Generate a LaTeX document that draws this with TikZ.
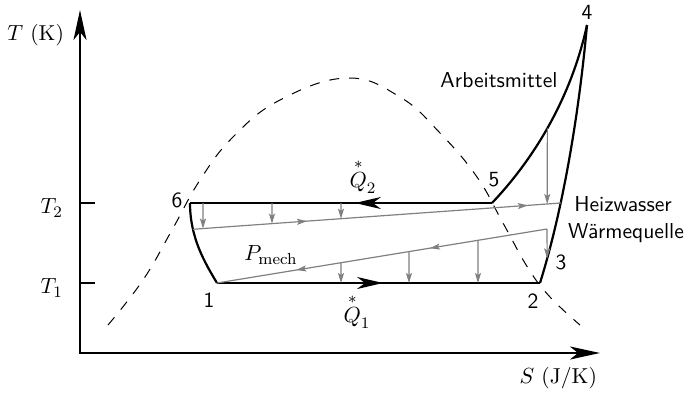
\documentclass[tikz,border=0pt]{standalone}
\usepackage{amsmath, amssymb}
\usepackage{tikz}
\usetikzlibrary{calc, arrows.meta, decorations.markings}

\tikzset{
    axis/.style={line width=1.1pt, {Stealth[length=15pt, width=6.5pt, inset=4pt]}-{Stealth[length=15pt, width=6.5pt, inset=4pt]}},
    cycleline/.style={line width=1.1pt},
    flow/.style={gray, line width=0.6pt},
    drop/.style={gray, line width=0.6pt, -{Stealth[length=5pt, width=3pt, inset=1pt]}},
    lbl/.style={font=\sffamily\fontsize{10.8}{13}\selectfont},
    mlbl/.style={font=\fontsize{10.8}{13}\selectfont}
}

\begin{document}
\begin{tikzpicture}[>=stealth, x=25pt, y=25pt]

    \useasboundingbox (-1.6,-0.8) rectangle (12.24,7.06);

    % =================================================================
    % 1. COORDINATES OF THE CYCLE POINTS
    % =================================================================
    \coordinate (O) at (0,0);
    \coordinate (Ytip) at (0,6.86);
    \coordinate (Xtip) at (10.4,0);
    \coordinate (P1) at (2.74,1.4);
    \coordinate (P2) at (9.2,1.4);
    \coordinate (P4) at (10.14,6.56);
    \coordinate (P5) at (8.24,3.0);
    \coordinate (P6) at (2.2,3.0);

    % =================================================================
    % 2. AXES AND TICKS
    % =================================================================
    \draw[axis] (Ytip) -- (O) -- (Xtip);
    \draw[line width=0.6pt] (0,3.0) -- (0.3,3.0);
    \draw[line width=0.6pt] (0,1.4) -- (0.3,1.4);

    % Saturation curve (dashed)
    \draw[line width=0.5pt, dash pattern=on 5pt off 5pt] plot[smooth, tension=0.7] coordinates {
        (0.56,0.56) (1.26,1.46) (1.84,2.46) (2.4,3.46) (3.06,4.32) (4.0,5.06) (5.34,5.5)
        (6.4,5.12) (7.2,4.4) (7.94,3.52) (8.46,2.6) (8.96,1.7) (9.4,1.12) (10.0,0.56)};

    % =================================================================
    % 3. THE CYCLE OF THE WORKING FLUID
    % =================================================================
    \draw[cycleline, postaction={decorate, decoration={markings,
        mark=at position 0.514 with {\arrow{Stealth[length=13pt, width=6pt, inset=4pt]}}}}] (P1) -- (P2);
    \draw[cycleline, postaction={decorate, decoration={markings,
        mark=at position 0.454 with {\arrow{Stealth[length=13pt, width=6pt, inset=4pt]}}}}] (P5) -- (P6);
    \draw[cycleline] (P2) .. controls (9.7,3.0) and (10.0,5.0) .. coordinate[pos=0.1] (P3) (P4);
    \draw[cycleline] (P5) .. controls (9.0,3.8) and (9.8,5.0) .. coordinate[pos=0.5] (m54) (P4);
    \draw[cycleline] (P6) .. controls (2.2,2.3) and (2.5,1.8) .. coordinate[pos=0.27] (hw1) (P1);

    % =================================================================
    % 4. HEATING WATER AND HEAT SOURCE (GRAY)
    % =================================================================
    \coordinate (hw2) at (9.62,3.0);
    \coordinate (wq2) at (9.34,2.48);

    \draw[flow, postaction={decorate, decoration={markings,
        mark=at position 0.31 with {\arrow{Stealth[length=5pt, width=3pt, inset=1pt]}},
        mark=at position 0.91 with {\arrow{Stealth[length=5pt, width=3pt, inset=1pt]}}}}] (hw1) -- (hw2);
    \draw[flow, postaction={decorate, decoration={markings,
        mark=at position 0.355 with {\arrow{Stealth[length=5pt, width=3pt, inset=1pt]}},
        mark=at position 0.76 with {\arrow{Stealth[length=5pt, width=3pt, inset=1pt]}}}}] (wq2) -- (P1);

    % Heat given off to the heating water
    \foreach \x in {2.46,3.84,5.22}
        \draw[drop] (\x,3.0) -- (intersection of hw1--hw2 and \x,3--\x,0);
    \draw[drop] (m54) -- (intersection of hw1--hw2 and m54--P3);

    % Heat taken from the source
    \foreach \x in {5.22,6.58,7.96}
        \draw[drop] (intersection of wq2--P1 and \x,3--\x,0) -- (\x,1.4);
    \draw[drop] (wq2) -- (P3);

    % =================================================================
    % 5. LABELS
    % =================================================================
    \node[mlbl, anchor=east] (tk) at (-0.18,6.36) {$T$ (K)};
    \node[mlbl, anchor=east] (sj) at (10.48,-0.5) {$S$ (J/K)};
    \node[mlbl, anchor=east] (t2) at (-0.2,2.9) {$T_2$};
    \node[mlbl, anchor=east] (t1) at (-0.2,1.3) {$T_1$};

    \node[lbl] (n1) at (2.58,1.06) {1};
    \node[lbl] (n2) at (9.06,1.04) {2};
    \node[lbl] (n3) at (9.62,1.82) {3};
    \node[lbl] (n4) at (10.14,6.82) {4};
    \node[lbl] (n5) at (8.28,3.46) {5};
    \node[lbl] (n6) at (1.94,3.06) {6};

    \node[lbl] (arb) at (8.38,5.46) {Arbeitsmittel};
    \node[lbl] (heiz) at (10.86,2.98) {Heizwasser};
    \node[lbl] (waerme) at (10.92,2.4) {Wärmequelle};

    \node[mlbl] (q2) at (5.66,3.54) {$\overset{*}{Q}_2$};
    \node[mlbl] (q1) at (5.54,0.84) {$\overset{*}{Q}_1$};
    \node[mlbl] (pm) at (3.82,1.96) {$P_{\mathrm{mech}}$};

\end{tikzpicture}
\end{document}
